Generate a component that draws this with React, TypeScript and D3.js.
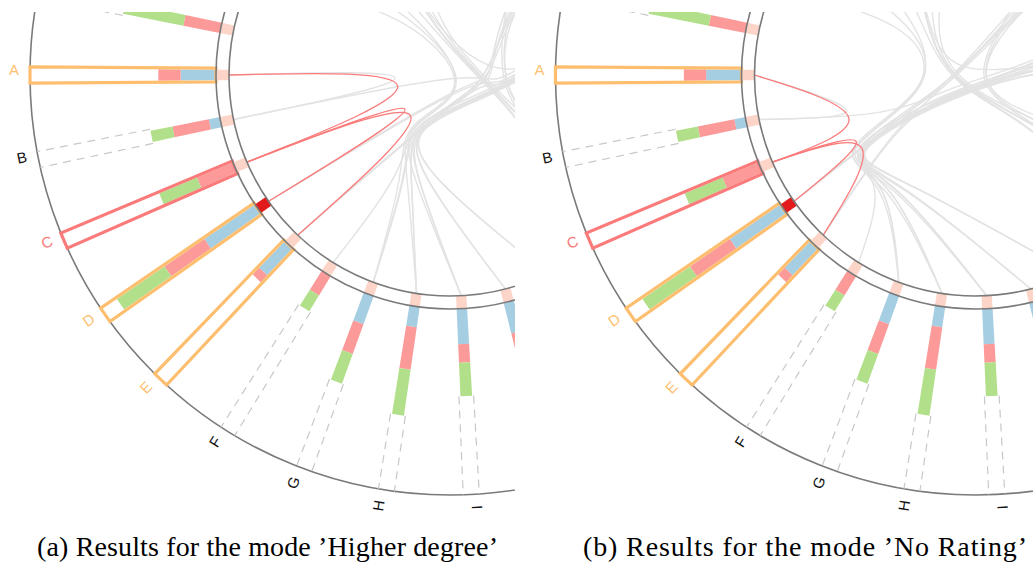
import React from "react";
import * as d3 from "d3";

// ---- data -------------------------------------------------------------
// Nodes in circular order, counter-clockwise starting from the left-hand side.
const NODES = [
  "A", "B", "C", "D", "E", "F", "G", "H", "I", "J", "K", "L", "M", "N", "O", "P",
  "Q", "R", "S", "T", "U", "V", "W", "X", "Y", "Z", "AA", "AB", "AC", "AD", "AE",
];

// Stacked profile bars (blue / red / green share) for the nodes on the left arc.
const BAR_NODES = ["AE", "A", "B", "C", "D", "E", "F", "G", "H", "I", "J"];
const BLUE = [0, 19, 6, 0, 33, 20, 0, 16, 11, 19, 17];
const RED = [20, 12, 20, 21, 26, 5, 12, 17, 23, 10, 15];
const GREEN = [33, 0, 12, 22, 31, 0, 10, 17, 25, 18, 16];

const SELECTED = "C";
const FLAGGED = "D";

const EDGES: [string, string][] = [
  ["A", "C"], ["C", "D"], ["C", "E"],
  ["A", "B"], ["B", "S"],
  ["D", "R"], ["D", "U"], ["E", "Q"], ["E", "T"],
  ["F", "S"], ["G", "P"], ["G", "T"], ["H", "R"], ["H", "Q"],
  ["I", "Q"], ["I", "U"], ["J", "S"], ["J", "P"], ["K", "R"], ["K", "T"],
  ["AD", "H"], ["AC", "I"], ["AB", "G"],
  ["X", "N"], ["Y", "M"], ["Z", "L"], ["Z", "M"], ["AA", "L"],
  ["O", "U"], ["P", "Z"], ["N", "T"], ["M", "V"],
];

// Cluster membership used for edge bundling.
const GROUP_CORE = ["AE", "A", "B", "C", "D", "E"];
const GROUP_LOW = ["F", "G", "H", "I", "J", "K"];
const GROUP_SIDE = ["L", "M", "N", "O"];
const GROUP_RIGHT = ["P", "Q", "R", "S"];
const GROUP_UPPER = ["T", "U", "V", "W"];
const GROUP_CROWN = ["X", "Y", "Z", "AA", "AB", "AC", "AD"];

const CAPTION_A = "(a) Results for the mode \u2019Higher degree\u2019";
const CAPTION_B = "(b) Results for the mode \u2019No Rating\u2019";

// ---- layout -----------------------------------------------------------
const W = 1033;
const H = 569;
const R_OUT = 420;
const R_RING_OUT = 234;
const R_RING_IN = 221;

type Anchor = { angle?: number; r: number };
type Layout = { beta: number; root: Anchor; anchors: Record<string, Anchor[]> };

const GROUPS: Record<string, string[]> = {
  core: GROUP_CORE,
  low: GROUP_LOW,
  side: GROUP_SIDE,
  right: GROUP_RIGHT,
  upper: GROUP_UPPER,
  crown: GROUP_CROWN,
};

// bundling anchors, listed from the leaf side towards the root (radius as share of the ring)
const LAYOUT_HIGHER: Layout = {
  beta: 0.95,
  root: { angle: 110, r: 0.2 },
  anchors: {
    core: [{ angle: 78.7, r: 0.185 }],
    low: [{ angle: 205, r: 0.45 }, { angle: 225, r: 0.3 }],
    side: [{ r: 0.45 }],
    right: [{ r: 0.45 }],
    upper: [{ r: 0.45 }],
    crown: [{ r: 0.4 }],
  },
};
const LAYOUT_NORATING: Layout = {
  beta: 0.95,
  root: { angle: 245, r: 0.15 },
  anchors: {
    core: [{ angle: 240.8, r: 0.4 }],
    low: [{ angle: 222, r: 0.6 }, { angle: 242.4, r: 0.78 }],
    side: [{ r: 0.45 }],
    right: [{ r: 0.45 }],
    upper: [{ r: 0.45 }],
    crown: [{ angle: 315, r: 0.35 }],
  },
};

const PANELS = [
  { key: "a", cx: 450, cy: 75, clip: [0, 12, 515, 557], caption: CAPTION_A, captionX: 37, captionW: 461, layout: LAYOUT_HIGHER },
  { key: "b", cx: 975.5, cy: 75, clip: [520, 12, 513, 557], caption: CAPTION_B, captionX: 583, captionW: 444, layout: LAYOUT_NORATING },
];

const COLORS: Record<string, string> = {
  blue: "#a6cee3",
  red: "#fb9a99",
  green: "#b2df8a",
  ring: "#fdd5c8",
  flagged: "#e31a1c",
  neighbour: "#fdbf6f",
  selected: "#fb7b7b",
  axis: "#7a7a7a",
  dash: "#c8c8c8",
  chord: "#e3e3e3",
};

// angle in degrees, clockwise from 12 o'clock
const angleScale = d3.scaleLinear().domain([0, NODES.length]).range([270, -90]);
const radial = d3.scaleLinear().domain([0, 100]).range([R_RING_OUT, R_OUT]);

const nodeAngle = new Map(NODES.map((n, i) => [n, angleScale(i)]));

function polar(angleDeg: number, r: number): [number, number] {
  const a = (angleDeg * Math.PI) / 180;
  return [r * Math.sin(a), -r * Math.cos(a)];
}

function meanAngle(ids: string[]) {
  const s = d3.sum(ids, (id) => Math.sin(((nodeAngle.get(id) as number) * Math.PI) / 180));
  const c = d3.sum(ids, (id) => Math.cos(((nodeAngle.get(id) as number) * Math.PI) / 180));
  return (Math.atan2(s, c) * 180) / Math.PI;
}

const groupOf = new Map<string, string>();
Object.entries(GROUPS).forEach(([g, ids]) => ids.forEach((id) => groupOf.set(id, g)));

// half-width of a radial band at radius r
const half = (r: number) => 3.6 + 0.007 * r;
function band(r0: number, r1: number, extra = 0) {
  const h0 = half(r0) + extra;
  const h1 = half(r1) + extra;
  return `M${r0},${-h0}L${r1},${-h1}L${r1},${h1}L${r0},${h0}Z`;
}

const neighbours = new Set(
  EDGES.filter((e) => e.includes(SELECTED)).map((e) => (e[0] === SELECTED ? e[1] : e[0]))
);

const stackRows = BAR_NODES.map((id, i) => ({ id, blue: BLUE[i], red: RED[i], green: GREEN[i] }));
const KEYS = ["blue", "red", "green"];
const series = d3.stack<any>().keys(KEYS)(stackRows);

function Panel({ panel }: { panel: (typeof PANELS)[number] }) {
  const { layout } = panel;
  const rootPt = polar(layout.root.angle as number, layout.root.r * R_RING_IN);
  const anchorPts = (g: string): [number, number][] =>
    (layout.anchors[g] || []).map((a) => polar(a.angle ?? meanAngle(GROUPS[g]), a.r * R_RING_IN));
  const line = d3.line().curve(d3.curveBundle.beta(layout.beta));

  const route = (s: string, t: string) => {
    const gs = groupOf.get(s) as string;
    const gt = groupOf.get(t) as string;
    const as = anchorPts(gs);
    const at = anchorPts(gt);
    const pts: [number, number][] = [polar(nodeAngle.get(s) as number, R_RING_IN)];
    if (gs === gt) {
      pts.push(as.length ? as[0] : rootPt);
    } else {
      pts.push(...as, rootPt, ...at.slice().reverse());
    }
    pts.push(polar(nodeAngle.get(t) as number, R_RING_IN));
    return line(pts) as string;
  };

  const grey = EDGES.filter((e) => !e.includes(SELECTED));
  const red = EDGES.filter((e) => e.includes(SELECTED));
  const rot = (id: string) => `rotate(${(nodeAngle.get(id) as number) - 90})`;
  const [cx0, cy0, cw, ch] = panel.clip;
  const dashed = BAR_NODES.filter((id) => id !== SELECTED && !neighbours.has(id));
  const boxed = BAR_NODES.filter((id) => id === SELECTED || neighbours.has(id));

  return (
    <g>
      <clipPath id={`clip-${panel.key}`}>
        <rect x={cx0} y={cy0} width={cw} height={ch} />
      </clipPath>
      <g clipPath={`url(#clip-${panel.key})`}>
        <g transform={`translate(${panel.cx},${panel.cy})`}>
          <circle r={R_OUT} fill="none" stroke={COLORS.axis} strokeWidth={1.6} />

          {grey.map(([s, t]) => (
            <path key={s + "-" + t} d={route(s, t)} fill="none" stroke={COLORS.chord} strokeWidth={1.4} />
          ))}
          {red.map(([s, t]) => (
            <path key={s + "-" + t} d={route(s, t)} fill="none" stroke={COLORS.selected} strokeWidth={1.3} />
          ))}

          {/* dashed guides beyond the bars */}
          {dashed.map((id) => {
            const i = BAR_NODES.indexOf(id);
            const end = radial(BLUE[i] + RED[i] + GREEN[i]);
            const h0 = half(end) + 1.5;
            const h1 = half(R_OUT) + 1.5;
            return (
              <g key={"dash" + id} transform={rot(id)} stroke={COLORS.dash} strokeWidth={1.2} strokeDasharray="8 6" fill="none">
                <path d={`M${end},${-h0}L${R_OUT},${-h1}`} />
                <path d={`M${end},${h0}L${R_OUT},${h1}`} />
              </g>
            );
          })}

          {/* stacked bars */}
          {series.map((s) =>
            s.map((d, i) => {
              const id = BAR_NODES[i];
              if (d[1] <= d[0]) return null;
              return (
                <path key={s.key + id} transform={rot(id)} d={band(radial(d[0]), radial(d[1]))} fill={COLORS[s.key]} />
              );
            })
          )}

          {/* outlines for the selected node and its neighbours */}
          {boxed.map((id) => (
            <path
              key={"box" + id}
              transform={rot(id)}
              d={band(R_RING_OUT, R_OUT, 1.6)}
              fill="none"
              stroke={id === SELECTED ? COLORS.selected : COLORS.neighbour}
              strokeWidth={3.2}
            />
          ))}

          {/* ring cells */}
          {NODES.map((id) => (
            <path
              key={"ring" + id}
              transform={rot(id)}
              d={band(R_RING_IN, R_RING_OUT)}
              fill={id === FLAGGED ? COLORS.flagged : COLORS.ring}
            />
          ))}
          <circle r={R_RING_IN} fill="none" stroke={COLORS.axis} strokeWidth={1.6} />
          <circle r={R_RING_OUT} fill="none" stroke={COLORS.axis} strokeWidth={1.6} />

          {/* node names on the rim */}
          {NODES.map((id) => {
            const a = ((nodeAngle.get(id) as number) + 360) % 360;
            const flip = a >= 180;
            const color = id === SELECTED ? COLORS.selected : neighbours.has(id) ? COLORS.neighbour : "#111";
            return (
              <text
                key={"lab" + id}
                transform={`rotate(${a - 90}) translate(${R_OUT + 11},0)${flip ? " rotate(180)" : ""}`}
                textAnchor={flip ? "end" : "start"}
                fontSize={15}
                fill={color}
              >
                {id}
              </text>
            );
          })}
        </g>
      </g>
      <text
        x={panel.captionX}
        y={556}
        fontFamily="Liberation Serif, Times New Roman, serif"
        fontSize={28}
        textLength={panel.captionW}
        lengthAdjust="spacing"
        fill="#000"
      >
        {panel.caption}
      </text>
    </g>
  );
}

export default function App() {
  return (
    <svg
      width={W}
      height={H}
      style={{ position: "absolute", left: 0, top: 0, background: "#fff" }}
      fontFamily="Liberation Sans, Arial, sans-serif"
    >
      {PANELS.map((p) => (
        <Panel key={p.key} panel={p} />
      ))}
    </svg>
  );
}
